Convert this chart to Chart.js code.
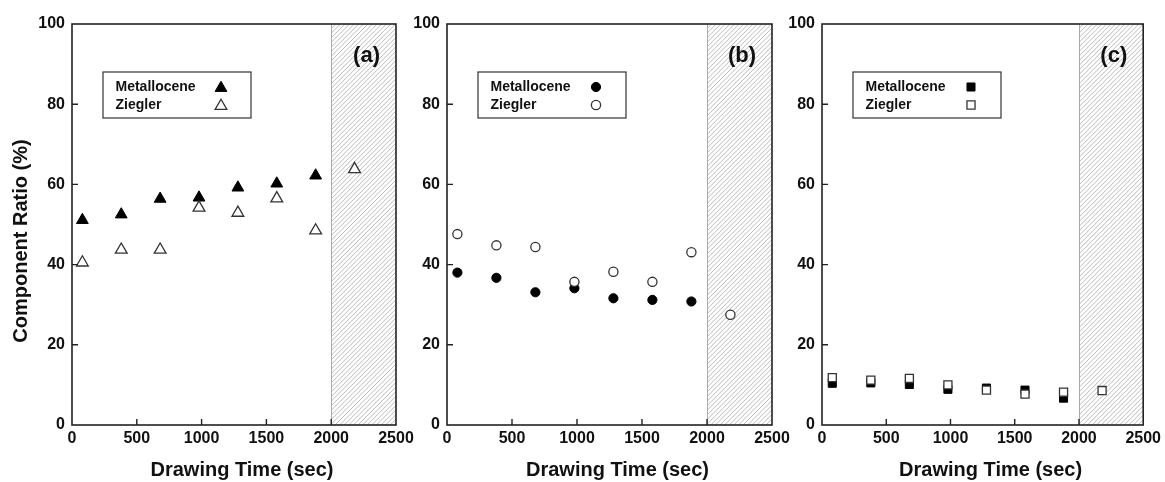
<!DOCTYPE html>
<html><head><meta charset="utf-8">
<script src="https://cdn.jsdelivr.net/npm/chart.js@4.4.1/dist/chart.umd.min.js"></script>
<style>
html,body{margin:0;padding:0;background:#fff;}
#wrap{position:relative;width:1165px;height:482px;overflow:hidden;background:#fff;}
#wrap canvas{position:absolute;left:0;top:0;}
</style></head><body>
<div id="wrap">
<canvas id="ca" width="1165" height="482"></canvas>
<canvas id="cb" width="1165" height="482"></canvas>
<canvas id="cc" width="1165" height="482"></canvas>
</div>
<script>
// ---- data ----
const drawingTime = [80, 380, 680, 980, 1280, 1580, 1880, 2180];
const seriesNames = ['Metallocene', 'Ziegler'];
const panelLabels = ['(a)', '(b)', '(c)'];
const metalloceneA = [51.1, 52.5, 56.4, 56.7, 59.2, 60.2, 62.2];
const zieglerA     = [40.5, 43.7, 43.7, 54.2, 52.9, 56.5, 48.5, 63.8];
const metalloceneB = [38.0, 36.7, 33.1, 34.1, 31.6, 31.2, 30.8];
const zieglerB     = [47.6, 44.8, 44.4, 35.7, 38.2, 35.7, 43.1, 27.5];
const metalloceneC = [10.4, 10.5, 10.1, 8.9, 9.2, 8.7, 6.7];
const zieglerC     = [11.8, 11.2, 11.6, 10.0, 8.7, 7.7, 8.2, 8.6];
const xTickValues = [0, 500, 1000, 1500, 2000, 2500];
const yTickValues = [0, 20, 40, 60, 80, 100];
const shadedFrom = 2000;
const xTitle = 'Drawing Time (sec)';
const yTitle = 'Component Ratio (%)';

const FONT = "'Liberation Sans', Arial, Helvetica, sans-serif";
const INK = '#111';

function pts(vals) { return vals.map((v, i) => ({x: drawingTime[i], y: v})); }

const panelPlugin = {
  id: 'panelDeco',
  beforeDatasetsDraw(chart) {
    const {ctx, chartArea: a, scales} = chart;
    const x0 = scales.x.getPixelForValue(shadedFrom);
    ctx.save();
    ctx.beginPath();
    ctx.rect(x0, a.top, a.right - x0, a.bottom - a.top);
    ctx.clip();
    ctx.strokeStyle = '#b4b4b4';
    ctx.lineWidth = 0.9;
    const h = a.bottom - a.top;
    for (let s = x0 - h; s < a.right + 5; s += 4.6) {
      ctx.beginPath();
      ctx.moveTo(s, a.bottom);
      ctx.lineTo(s + h, a.top);
      ctx.stroke();
    }
    ctx.restore();
    ctx.save();
    ctx.strokeStyle = '#aaa';
    ctx.lineWidth = 1;
    ctx.beginPath();
    ctx.moveTo(Math.round(x0) + 0.5, a.top);
    ctx.lineTo(Math.round(x0) + 0.5, a.bottom);
    ctx.stroke();
    ctx.restore();
  },
  afterDraw(chart, args, opts) {
    const {ctx, chartArea: a, scales} = chart;
    ctx.save();
    // frame
    ctx.strokeStyle = '#222';
    ctx.lineWidth = 1.6;
    ctx.strokeRect(a.left, a.top, a.right - a.left, a.bottom - a.top);
    // inward ticks
    ctx.lineWidth = 1.4;
    ctx.beginPath();
    scales.x.ticks.forEach(t => {
      if (t.value <= scales.x.min || t.value >= scales.x.max) return;
      const px = scales.x.getPixelForValue(t.value);
      ctx.moveTo(px, a.bottom); ctx.lineTo(px, a.bottom - 6);
    });
    scales.y.ticks.forEach(t => {
      if (t.value <= scales.y.min || t.value >= scales.y.max) return;
      const py = scales.y.getPixelForValue(t.value);
      ctx.moveTo(a.left, py); ctx.lineTo(a.left + 6, py);
    });
    ctx.stroke();
    // panel label
    ctx.fillStyle = INK;
    ctx.font = 'bold 22px ' + FONT;
    ctx.textAlign = 'right';
    ctx.textBaseline = 'middle';
    ctx.fillText(opts.label, a.right - 16, a.top + 32);
    // axis titles
    ctx.font = 'bold 20px ' + FONT;
    ctx.textAlign = 'center';
    ctx.fillText(xTitle, (a.left + a.right) / 2 + 8, 470);
    if (opts.yTitle) {
      ctx.save();
      ctx.translate(21, 241);
      ctx.rotate(-Math.PI / 2);
      ctx.fillText(yTitle, 0, 0);
      ctx.restore();
    }
    // legend box
    const bx = a.left + 31, by = a.top + 48, bw = 148, bh = 46;
    ctx.strokeStyle = '#333';
    ctx.lineWidth = 1.2;
    ctx.fillStyle = '#fff';
    ctx.fillRect(bx, by, bw, bh);
    ctx.strokeRect(bx, by, bw, bh);
    ctx.font = 'bold 14px ' + FONT;
    ctx.textAlign = 'left';
    chart.data.datasets.forEach((ds) => {
      const row = seriesNames.indexOf(ds.label);
      const ry = by + 15 + row * 18;
      ctx.fillStyle = INK;
      ctx.fillText(ds.label, bx + 12.5, ry);
      ctx.fillStyle = ds.backgroundColor;
      ctx.strokeStyle = ds.borderColor;
      ctx.lineWidth = ds.borderWidth;
      Chart.helpers.drawPoint(ctx, {pointStyle: ds.pointStyle, radius: ds.pointRadius, rotation: 0, borderWidth: ds.borderWidth}, bx + 118, ry + (ds.pointStyle === 'triangle' ? 1 : 0));
    });
    ctx.restore();
  }
};

function makePanel(id, label, style, radius, met, zieg, padLeft, padRight, showYTitle) {
  return new Chart(document.getElementById(id), {
    type: 'scatter',
    data: {
      datasets: [
        {label: seriesNames[0], data: pts(met), pointStyle: style, pointRadius: radius,
         backgroundColor: '#000', borderColor: '#000', borderWidth: 1, order: 1},
        {label: seriesNames[1], data: pts(zieg), pointStyle: style, pointRadius: radius,
         backgroundColor: '#fff', borderColor: '#333', borderWidth: 1.3, order: 0}
      ]
    },
    options: {
      responsive: false,
      animation: false,
      events: [],
      layout: {padding: {left: padLeft, right: padRight, top: 24, bottom: 0}},
      plugins: {legend: {display: false}, tooltip: {enabled: false}, panelDeco: {label: label, yTitle: showYTitle}},
      scales: {
        x: {
          type: 'linear', min: 0, max: 2500,
          afterBuildTicks: s => { s.ticks = xTickValues.map(v => ({value: v})); },
          afterFit: s => { s.height = 57; },
          grid: {display: false, drawTicks: false}, border: {display: false},
          ticks: {color: INK, font: {family: FONT, size: 16, weight: 'bold'}, padding: 4, maxRotation: 0,
                  callback: v => String(v)}
        },
        y: {
          type: 'linear', min: 0, max: 100,
          afterBuildTicks: s => { s.ticks = yTickValues.map(v => ({value: v})); },
          afterFit: s => { s.width = 60; },
          grid: {display: false, drawTicks: false}, border: {display: false},
          ticks: {color: INK, font: {family: FONT, size: 16, weight: 'bold'}, padding: 7,
                  callback: v => String(v)}
        }
      }
    },
    plugins: [panelPlugin]
  });
}

makePanel('ca', panelLabels[0], 'triangle', 6.8, metalloceneA, zieglerA, 12, 1165 - 396, true);
makePanel('cb', panelLabels[1], 'circle', 4.6, metalloceneB, zieglerB, 387, 1165 - 772, false);
makePanel('cc', panelLabels[2], 'rect', 5.7, metalloceneC, zieglerC, 762, 1165 - 1144, false);
</script>
</body></html>
